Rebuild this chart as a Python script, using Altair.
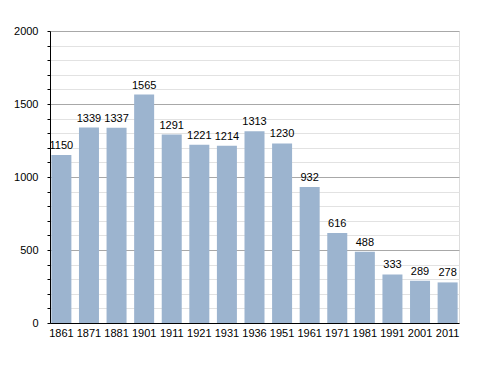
import altair as alt
import pandas as pd

years = ["1861", "1871", "1881", "1901", "1911", "1921", "1931", "1936",
         "1951", "1961", "1971", "1981", "1991", "2001", "2011"]
population = [1150, 1339, 1337, 1565, 1291, 1221, 1214, 1313,
              1230, 932, 616, 488, 333, 289, 278]

df = pd.DataFrame({"year": years, "pop": population})

x = alt.X("year:N", sort=years, title=None,
          scale=alt.Scale(paddingInner=0.275, paddingOuter=0.05),
          axis=alt.Axis(labelAngle=0, ticks=False, domainColor="#000",
                        labelColor="#000", labelFontSize=11, labelPadding=4,
                        labelFont="Liberation Sans"))
y = alt.Y("pop:Q", title=None,
          scale=alt.Scale(domain=[0, 2000], nice=False),
          axis=alt.Axis(values=list(range(0, 2001, 100)),
                        labelExpr="datum.value % 500 == 0 ? datum.label : ''",
                        labelOverlap=False,
                        format="d",
                        grid=True,
                        gridColor={"condition": {"test": "datum.value % 500 == 0", "value": "#a8a8a8"}, "value": "#e2e2e2"},
                        domainColor="#000", tickColor="#000", tickSize=3,
                        labelPadding=9, labelColor="#000", labelFontSize=11,
                        labelFont="Liberation Sans"))

base = alt.Chart(df).encode(x=x, y=y)
bars = base.mark_bar(color="#9cb4cf")
labels = base.mark_text(baseline="bottom", dy=-4, fontSize=11,
                        font="Liberation Sans", color="#000").encode(text="pop:Q")

chart = alt.layer(bars, labels).properties(
    width=409, height=292,
    autosize=alt.AutoSizeParams(type="none"),
    padding={"left": 42, "top": 23, "right": 20, "bottom": 30},
).configure_view(stroke=None).configure(background="white")

chart.save("out.html", embed_options={"renderer": "svg", "actions": False})
